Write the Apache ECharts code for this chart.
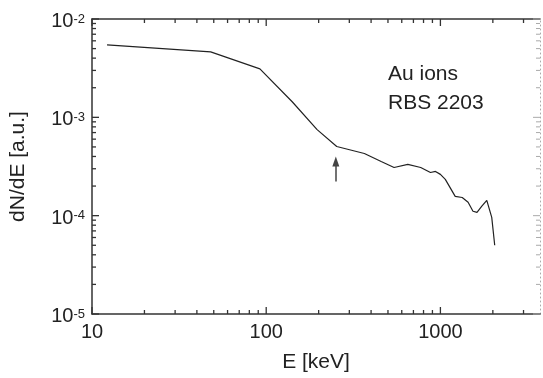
<!DOCTYPE html>
<html>
<head>
<meta charset="utf-8">
<script src="https://cdn.jsdelivr.net/npm/echarts@6/dist/echarts.min.js"></script>
<style>
html,body{margin:0;padding:0;background:#fff;}
#chart{width:543px;height:378px;}
</style>
</head>
<body>
<div id="chart"></div>
<script>
// Energy (keV) and dN/dE (a.u.)
const energy = [12.2, 48, 92, 141, 196, 254, 366, 457, 542, 650, 771, 877, 937, 1000, 1067, 1216, 1334, 1442, 1538, 1622, 1729, 1846, 1971, 2050];
const dNdE = [5.45e-3, 4.63e-3, 3.11e-3, 1.44e-3, 7.5e-4, 5.05e-4, 4.29e-4, 3.56e-4, 3.09e-4, 3.32e-4, 3.09e-4, 2.75e-4, 2.82e-4, 2.63e-4, 2.34e-4, 1.57e-4, 1.53e-4, 1.37e-4, 1.11e-4, 1.08e-4, 1.25e-4, 1.43e-4, 9.6e-5, 5.0e-5];
const xMajorTicks = [10, 100, 1000];
const xMinorTicks = [20, 30, 40, 50, 60, 70, 80, 90, 200, 300, 400, 500, 600, 700, 800, 900, 2000, 3000];
const yMajorTicks = [1e-5, 1e-4, 1e-3, 1e-2];
const yMinorTicks = [2e-5,3e-5,4e-5,5e-5,6e-5,7e-5,8e-5,9e-5,2e-4,3e-4,4e-4,5e-4,6e-4,7e-4,8e-4,9e-4,2e-3,3e-3,4e-3,5e-3,6e-3,7e-3,8e-3,9e-3];
const arrowE = 251;
const arrowFrom = 2.23e-4;
const arrowTo = 3.56e-4;
const annotation = ['Au ions', 'RBS 2203'];
const xTitle = 'E [keV]';
const yTitle = 'dN/dE [a.u.]';

const X_MIN = 10, X_MAX = 3730, Y_MIN = 1e-5, Y_MAX = 1e-2;
const FONT = 'Liberation Sans, Arial, sans-serif';
const AX = '#333';

function isPow10(v){ const l = Math.log10(v); return Math.abs(l - Math.round(l)) < 1e-6; }

const tickData = [];
xMajorTicks.forEach(v => tickData.push(['x', v, 1]));
xMinorTicks.forEach(v => tickData.push(['x', v, 0]));
yMajorTicks.forEach(v => tickData.push(['y', v, 1]));
yMinorTicks.forEach(v => tickData.push(['y', v, 0]));
const nX = xMajorTicks.length + xMinorTicks.length;

const chart = echarts.init(document.getElementById('chart'));
chart.setOption({
  animation: false,
  backgroundColor: '#fff',
  grid: { left: 87, right: 2, top: 19, bottom: 63, containLabel: false },
  xAxis: [{
    type: 'log', min: X_MIN, max: X_MAX, logBase: 10,
    name: xTitle, nameLocation: 'middle', nameGap: 38,
    nameTextStyle: { fontFamily: FONT, fontSize: 21, color: '#222' },
    axisLine: { show: true, lineStyle: { color: AX, width: 1.5 } },
    axisTick: { show: false }, splitLine: { show: false },
    axisLabel: { fontFamily: FONT, fontSize: 20, color: '#222', margin: 8, showMinLabel: true,
      formatter: v => isPow10(v) ? String(Math.round(v)) : '' }
  }, {
    type: 'log', min: X_MIN, max: X_MAX, position: 'top',
    axisLine: { show: true, lineStyle: { color: AX, width: 1.5 } },
    axisTick: { show: false }, axisLabel: { show: false }, splitLine: { show: false }
  }],
  yAxis: [{
    type: 'log', min: Y_MIN, max: Y_MAX, logBase: 10,
    name: yTitle, nameLocation: 'middle', nameGap: 63, nameRotate: 90,
    nameTextStyle: { fontFamily: FONT, fontSize: 21, color: '#222' },
    axisLine: { show: true, lineStyle: { color: AX, width: 1.5 } },
    axisTick: { show: false }, splitLine: { show: false },
    axisLabel: { fontFamily: FONT, fontSize: 20, color: '#222', margin: 7,
      formatter: v => isPow10(v) ? '{b|10}{s|' + Math.round(Math.log10(v)) + '}' : '',
      rich: {
        b: { fontFamily: FONT, fontSize: 20, color: '#222', padding: [5, 0, 0, 0] },
        s: { fontFamily: FONT, fontSize: 13, color: '#222', verticalAlign: 'top', padding: [6, 0, 0, 0] }
      } }
  }, {
    type: 'log', min: Y_MIN, max: Y_MAX, position: 'right',
    axisLine: { show: true, lineStyle: { color: '#aaa', width: 1, type: [1, 3] } },
    axisTick: { show: false }, axisLabel: { show: false }, splitLine: { show: false }
  }],
  series: [{
    type: 'line', xAxisIndex: 0, yAxisIndex: 0,
    data: energy.map((e, i) => [e, dNdE[i]]),
    showSymbol: false, symbol: 'none',
    lineStyle: { color: '#222', width: 1.2 },
    z: 3
  }, {
    type: 'custom', xAxisIndex: 0, yAxisIndex: 0, coordinateSystem: 'cartesian2d',
    data: tickData, silent: true, clip: false,
    renderItem: function (params, api) {
      const v = api.value(1), major = api.value(2);
      const len = major ? 7 : 4;
      const children = [];
      if (params.dataIndex < nX) {
        const b = api.coord([v, Y_MIN]), t = api.coord([v, Y_MAX]);
        children.push({ type: 'line', shape: { x1: b[0], y1: b[1], x2: b[0], y2: b[1] - len }, style: { stroke: AX, lineWidth: 1.3 } });
        children.push({ type: 'line', shape: { x1: t[0], y1: t[1], x2: t[0], y2: t[1] + len }, style: { stroke: AX, lineWidth: 1.3 } });
      } else {
        const l = api.coord([X_MIN, v]), r = api.coord([X_MAX, v]);
        children.push({ type: 'line', shape: { x1: l[0], y1: l[1], x2: l[0] + len, y2: l[1] }, style: { stroke: AX, lineWidth: 1.3 } });
        children.push({ type: 'line', shape: { x1: r[0], y1: r[1], x2: r[0] - len, y2: r[1] }, style: { stroke: '#aaa', lineWidth: 1 } });
      }
      return { type: 'group', children: children };
    },
    z: 4
  }, {
    type: 'line', xAxisIndex: 0, yAxisIndex: 0, data: [], symbol: 'none',
    markLine: {
      silent: true, symbol: ['none', 'triangle'], symbolSize: [7, 10],
      label: { show: false },
      lineStyle: { color: '#444', width: 1.5, type: 'solid' },
      data: [[{ coord: [arrowE, arrowFrom] }, { coord: [arrowE, arrowTo] }]]
    }
  }],
  graphic: [{
    type: 'text', left: 388, top: 64,
    style: { text: annotation[0], fontFamily: FONT, fontSize: 21, fill: '#222' }
  }, {
    type: 'text', left: 388, top: 93,
    style: { text: annotation[1], fontFamily: FONT, fontSize: 21, fill: '#222' }
  }]
});
</script>
</body>
</html>
